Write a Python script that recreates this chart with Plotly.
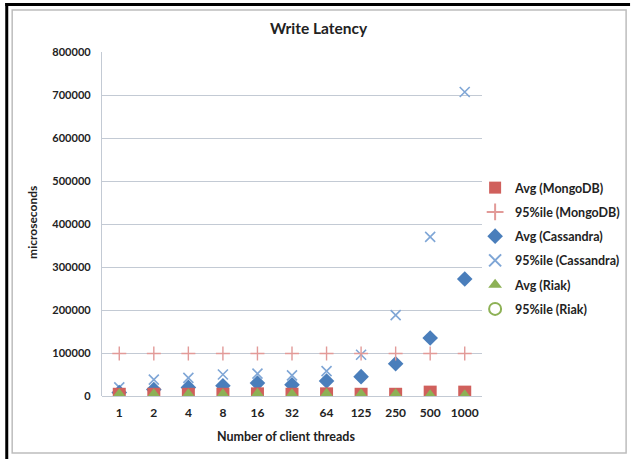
import plotly.graph_objects as go

categories = ["1", "2", "4", "8", "16", "32", "64", "125", "250", "500", "1000"]
mongo_avg = [4000, 4000, 4000, 4000, 5000, 4000, 5000, 4000, 4000, 9000, 9000]
mongo_p95 = [99000] * 11
cass_avg = [8000, 15000, 20000, 24000, 30000, 26000, 35000, 45000, 75000, 135000, 272000]
cass_p95 = [20000, 38000, 42000, 50000, 52000, 48000, 58000, 96000, 188000, 370000, 707000]
riak_avg = [4000, 4000, 4000, 4000, 5000, 4000, 5000, 4000, 4000, 1500, 1500]
riak_p95 = [5000, 5000, 5000, 5000, 6000, 5000, 6000, 5000, 5000, 2500, 2500]
y_ticks = [0, 100000, 200000, 300000, 400000, 500000, 600000, 700000, 800000]

W, H = 637, 459
L, R, T, B = 102, 487, 52, 396

def px(x):
    return (x - L) / (R - L)

def py(y):
    return (B - y) / (B - T)

FONT = "Lato"
fig = go.Figure()

# draw order: Cassandra, Riak 95, Mongo avg, Riak avg, Mongo 95
fig.add_trace(go.Scatter(x=categories, y=cass_p95, mode="markers", name="95%ile (Cassandra)",
                         legendrank=4, legendgroup="g4",
                         marker=dict(symbol="x-thin", size=10, line=dict(color="#7FA6D6", width=1.6))))
fig.add_trace(go.Scatter(x=categories, y=cass_avg, mode="markers", name="Avg (Cassandra)",
                         legendrank=3, legendgroup="g3",
                         marker=dict(symbol="diamond", size=12, color="#4A7EBB")))
fig.add_trace(go.Scatter(x=categories, y=riak_p95, mode="markers", name="95%ile (Riak)",
                         legendrank=6, legendgroup="g6",
                         marker=dict(symbol="circle-open", size=7, color="#8DB155", line=dict(width=1.3))))
fig.add_trace(go.Scatter(x=categories, y=mongo_avg, mode="markers", name="Avg (MongoDB)",
                         legendrank=1, legendgroup="g1",
                         marker=dict(symbol="square", size=13, color="#D0605C")))
fig.add_trace(go.Scatter(x=categories, y=riak_avg, mode="markers", name="Avg (Riak)",
                         legendrank=5, legendgroup="g5",
                         marker=dict(symbol="triangle-up", size=12, color="#8DB155")))
fig.add_trace(go.Scatter(x=categories, y=mongo_p95, mode="markers", name="95%ile (MongoDB)",
                         legendrank=2, legendgroup="g2",
                         marker=dict(symbol="cross-thin", size=10, line=dict(color="#E29A98", width=1.4))))

shapes = [
    # inner grey frame
    dict(type="rect", xref="paper", yref="paper", x0=px(11), x1=px(633), y0=py(453), y1=py(10),
         line=dict(color="#BDBDBD", width=1.5), layer="below"),
    # outer black border (left and top)
    dict(type="line", xref="paper", yref="paper", x0=px(5.5), x1=px(5.5), y0=py(459), y1=py(3),
         line=dict(color="black", width=3)),
    dict(type="line", xref="paper", yref="paper", x0=px(4), x1=px(637), y0=py(4.5), y1=py(4.5),
         line=dict(color="black", width=3)),
]

fig.update_layout(
    width=W, height=H,
    margin=dict(l=L, r=W - R, t=T, b=H - B, pad=0),
    paper_bgcolor="white", plot_bgcolor="white",
    font=dict(family=FONT, size=11, color="#222222"),
    showlegend=True,
    legend=dict(x=px(632), y=py(173), xanchor="right", yanchor="top",
                font=dict(family=FONT, size=12.5, color="#222222", weight="bold"),
                tracegroupgap=5, itemsizing="constant", itemwidth=30,
                bgcolor="rgba(0,0,0,0)"),
    shapes=shapes,
    annotations=[
        dict(text="<b>Write Latency</b>", xref="paper", yref="paper", x=px(322), y=py(28),
             xanchor="center", yanchor="middle",
             showarrow=False, font=dict(family=FONT, size=15.5, color="#222222")),
        dict(text="<b>Number of client threads</b>", xref="paper", yref="paper", x=px(288), y=py(436),
             xanchor="center", yanchor="middle",
             showarrow=False, font=dict(family=FONT, size=12.5, color="#222222")),
        dict(text="<b>microseconds</b>", xref="paper", yref="paper", x=px(31), y=py(222),
             xanchor="center", yanchor="middle",
             showarrow=False, textangle=-90, font=dict(family=FONT, size=12, color="#222222")),
    ],
    xaxis=dict(type="category", categoryorder="array", categoryarray=categories,
               range=[-0.5, 10.5], showgrid=False, zeroline=False, showline=False,
               ticks="outside", ticklen=6, tickcolor="rgba(0,0,0,0)",
               tickfont=dict(family=FONT, size=12, weight="bold", color="#222222")),
    yaxis=dict(range=[0, 800000], tickvals=y_ticks, ticktext=[str(v) for v in y_ticks],
               showgrid=True, gridcolor="#C3CAD4", gridwidth=1.3,
               zeroline=True, zerolinecolor="#C3CAD4", zerolinewidth=1.3,
               showline=True, linecolor="#C3CAD4", linewidth=1.3,
               ticks="outside", ticklen=8, tickcolor="rgba(0,0,0,0)",
               tickfont=dict(family=FONT, size=11, weight="bold", color="#222222")),
)

fig.write_html("out.html", config={"displayModeBar": False},
               post_script="document.body.style.margin='0';")
